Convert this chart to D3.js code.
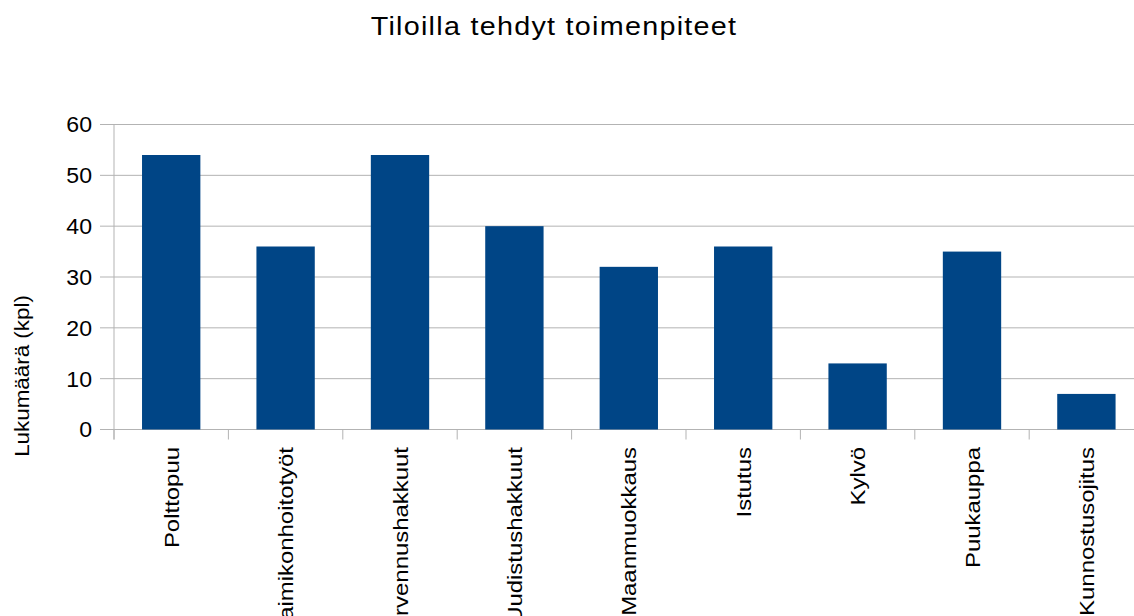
<!DOCTYPE html>
<html>
<head>
<meta charset="utf-8">
<script src="https://cdn.jsdelivr.net/npm/d3@7"></script>
<style>
  html, body { margin: 0; padding: 0; background: #fff; overflow: hidden; }
  svg { display: block; font-family: "Liberation Sans", Arial, sans-serif; }
</style>
</head>
<body>
<div id="chart"></div>
<script>
// Tilastot tiloilla tehdyistä toimenpiteistä
const categories = ["Polttopuu", "Taimikonhoitotyöt", "Harvennushakkuut", "Uudistushakkuut",
    "Maanmuokkaus", "Istutus", "Kylvö", "Puukauppa", "Kunnostusojitus"];
const counts = [54, 36, 54, 40, 32, 36, 13, 35, 7];
const yTicks = [0, 10, 20, 30, 40, 50, 60];
const chartTitle = "Tiloilla tehdyt toimenpiteet";
const yTitle = "Lukumäärä (kpl)";

const width = 1134;
const height = 616;
// plot runs a bit past the right edge, like the original export
const margin = { top: 124.5, right: -9.6, bottom: 186.5, left: 114 };

const data = categories.map((c, i) => ({ name: c, value: counts[i] }));

const svg = d3.select("#chart").append("svg")
    .attr("width", width)
    .attr("height", height);

const x = d3.scaleBand()
    .domain(categories)
    .range([margin.left, width - margin.right])
    .paddingInner(0.49)
    .paddingOuter(0.245);

const y = d3.scaleLinear()
    .domain([0, 60])
    .range([height - margin.bottom, margin.top]);

const step = x.step();
const x0 = margin.left;

// gridlines + y ticks
svg.append("g")
    .selectAll("line")
    .data(yTicks)
    .enter().append("line")
    .attr("x1", x0 - 14)
    .attr("x2", width)
    .attr("y1", d => y(d))
    .attr("y2", d => y(d))
    .attr("stroke", "#b3b3b3")
    .attr("stroke-width", 1);

// y axis line
svg.append("line")
    .attr("x1", x0).attr("x2", x0)
    .attr("y1", y(60)).attr("y2", y(0) + 10)
    .attr("stroke", "#b3b3b3");

// x ticks at category boundaries
svg.append("g")
    .selectAll("line")
    .data(d3.range(categories.length + 1))
    .enter().append("line")
    .attr("x1", i => x0 + i * step)
    .attr("x2", i => x0 + i * step)
    .attr("y1", y(0))
    .attr("y2", y(0) + 10)
    .attr("stroke", "#b3b3b3");

// bars
svg.append("g")
    .selectAll("rect")
    .data(data)
    .enter().append("rect")
    .attr("x", d => x(d.name))
    .attr("y", d => y(d.value))
    .attr("width", x.bandwidth())
    .attr("height", d => y(0) - y(d.value))
    .attr("fill", "#004586");

// y tick labels
svg.append("g")
    .selectAll("text")
    .data(yTicks)
    .enter().append("text")
    .attr("transform", d => `translate(92,${y(d)}) scale(1.05,1)`)
    .attr("dy", "0.36em")
    .attr("text-anchor", "end")
    .attr("font-size", 22)
    .text(d => d);

// category labels (rotated, glyphs a little wide as in the original)
svg.append("g")
    .selectAll("text")
    .data(data)
    .enter().append("text")
    .attr("transform", d => `translate(${x(d.name) + x.bandwidth() / 2},447) rotate(-90) scale(1.14,1)`)
    .attr("dy", "0.36em")
    .attr("text-anchor", "end")
    .attr("font-size", 21)
    .text(d => d.name);

// title
svg.append("text")
    .attr("transform", "translate(554,35) scale(1.15,1)")
    .attr("text-anchor", "middle")
    .attr("font-size", 25)
    .attr("letter-spacing", 1.1)
    .text(chartTitle);

// y axis title
svg.append("text")
    .attr("transform", "translate(29,376) rotate(-90) scale(1.12,1)")
    .attr("text-anchor", "middle")
    .attr("font-size", 20)
    .text(yTitle);
</script>
</body>
</html>
